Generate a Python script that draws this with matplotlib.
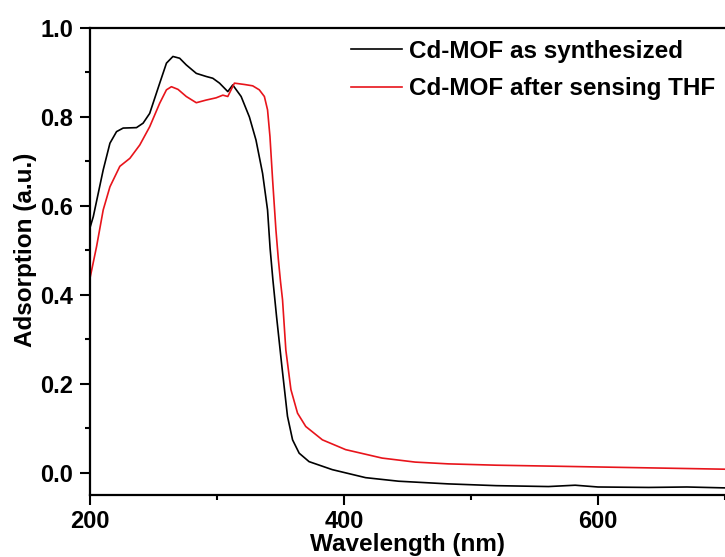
import matplotlib.pyplot as plt
from matplotlib.ticker import MultipleLocator

plt.rcParams['font.family'] = ['Liberation Sans', 'DejaVu Sans']
plt.rcParams['font.weight'] = 'bold'

# values
wl_black = [200, 202.6, 210.4, 215.7, 220.9, 226.1, 236.6, 241.8, 247, 254.9,
            260.2, 265.3, 270.6, 275.8, 283.7, 291.5, 296.7, 302, 308.5, 312.4,
            319, 325.5, 330.7, 335.9, 339.8, 341.8, 344, 346.9, 351.1, 355.5,
            359.5, 364.7, 372.5, 390.8, 417, 443, 482, 520, 561, 582, 600, 640,
            670, 700]
abs_black = [0.551, 0.576, 0.681, 0.741, 0.767, 0.775, 0.776, 0.786, 0.808, 0.876,
             0.921, 0.936, 0.932, 0.917, 0.898, 0.891, 0.887, 0.876, 0.857, 0.872,
             0.846, 0.800, 0.748, 0.673, 0.591, 0.505, 0.434, 0.351, 0.239, 0.127,
             0.074, 0.044, 0.025, 0.007, -0.011, -0.019, -0.025, -0.029, -0.031,
             -0.028, -0.032, -0.033, -0.032, -0.034]

wl_red = [200, 205.2, 210.4, 215.7, 223.5, 231.4, 239.2, 247, 254.9, 260.2,
          264.1, 269.3, 275.8, 283.7, 291.5, 299.3, 304.6, 308.5, 313.7, 321.6,
          328.1, 333.3, 337.3, 339.8, 341.7, 343.8, 346.4, 348.3, 350, 351.6,
          354.2, 358.2, 363.4, 369.9, 383, 401.3, 430, 456, 482, 520, 561, 620,
          700]
abs_red = [0.4375, 0.509, 0.591, 0.643, 0.689, 0.707, 0.737, 0.778, 0.831, 0.861,
           0.868, 0.862, 0.846, 0.832, 0.838, 0.843, 0.849, 0.846, 0.876, 0.873,
           0.870, 0.861, 0.846, 0.816, 0.756, 0.658, 0.546, 0.48, 0.43, 0.389,
           0.276, 0.187, 0.134, 0.104, 0.074, 0.052, 0.033, 0.024, 0.020, 0.017,
           0.015, 0.012, 0.008]

labels = ['Cd-MOF as synthesized', 'Cd-MOF after sensing THF']

fig = plt.figure(figsize=(7.25, 5.57), dpi=100)
ax = fig.add_axes([90 / 725, 62 / 557, 635 / 725, 467 / 557])

ax.plot(wl_black, abs_black, color='black', lw=1.2, label=labels[0])
ax.plot(wl_red, abs_red, color='#e8141b', lw=1.2, label=labels[1])

ax.set_xlim(200, 700)
ax.set_ylim(-0.05, 1.0)
ax.xaxis.set_major_locator(MultipleLocator(200))
ax.xaxis.set_minor_locator(MultipleLocator(100))
ax.yaxis.set_major_locator(MultipleLocator(0.2))
ax.yaxis.set_minor_locator(MultipleLocator(0.1))
ax.yaxis.set_major_formatter(plt.FormatStrFormatter('%.1f'))

for side in ['left', 'bottom', 'top']:
    ax.spines[side].set_linewidth(1.6)
ax.spines['right'].set_visible(False)
ax.tick_params(which='major', direction='out', length=7, width=1.5,
               labelsize=17, pad=5)
ax.tick_params(axis='x', which='major', pad=4)
ax.tick_params(which='minor', direction='out', length=3.5, width=1.5)

ax.set_xlabel('Wavelength (nm)', fontsize=17.5, fontweight='bold', labelpad=0)
ax.set_ylabel('Adsorption (a.u.)', fontsize=17.5, fontweight='bold')
ax.yaxis.set_label_coords(-0.083, 0.525)

ax.legend(loc='upper left', bbox_to_anchor=(351 / 725, 1 - 40 / 557),
          bbox_transform=fig.transFigure, frameon=False, fontsize=17.5,
          handlelength=2.1, handletextpad=0.3, labelspacing=0.58,
          borderpad=0, borderaxespad=0)

fig.savefig('out.png', dpi=100)
